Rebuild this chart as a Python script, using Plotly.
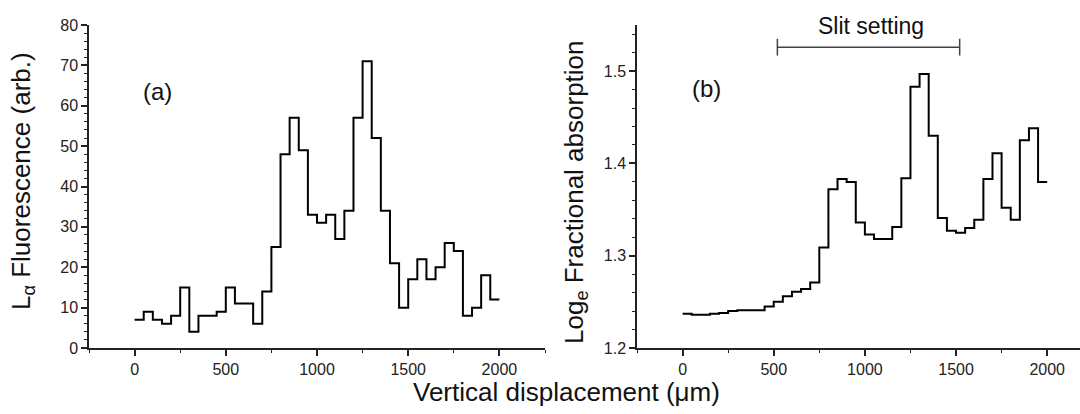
import plotly.graph_objects as go

# ---- data ----
displacement = [0, 50, 100, 150, 200, 250, 300, 350, 400, 450,
                500, 550, 600, 650, 700, 750, 800, 850, 900, 950,
                1000, 1050, 1100, 1150, 1200, 1250, 1300, 1350, 1400, 1450,
                1500, 1550, 1600, 1650, 1700, 1750, 1800, 1850, 1900, 1950, 2000]

fluorescence = [7, 9, 7, 6, 8, 15, 4, 8, 8, 9,
                15, 11, 11, 6, 14, 25, 48, 57, 49, 33,
                31, 33, 27, 34, 57, 71, 52, 34, 21, 10,
                17, 22, 17, 20, 26, 24, 8, 10, 18, 12, 12]

log_absorption = [1.237, 1.236, 1.236, 1.237, 1.238, 1.240, 1.241, 1.241, 1.241, 1.245,
                  1.250, 1.256, 1.261, 1.264, 1.271, 1.309, 1.372, 1.383, 1.380, 1.336,
                  1.323, 1.318, 1.318, 1.331, 1.384, 1.483, 1.497, 1.430, 1.341, 1.327,
                  1.325, 1.330, 1.339, 1.383, 1.411, 1.352, 1.339, 1.425, 1.438, 1.380, 1.380]

slit_range = [520, 1520]
slit_level = [1.526, 1.526]

x_ticks = [0, 500, 1000, 1500, 2000]
left_y_ticks = [0, 10, 20, 30, 40, 50, 60, 70, 80]
right_y_ticks = [1.2, 1.3, 1.4, 1.5]

FONT = "Liberation Sans, Arial, sans-serif"
AX = "#222222"
TXT = "#111111"

fig = go.Figure()

fig.add_trace(go.Scatter(x=displacement, y=fluorescence, mode="lines",
                         line=dict(shape="hv", color="black", width=2),
                         xaxis="x", yaxis="y", showlegend=False))
fig.add_trace(go.Scatter(x=displacement, y=log_absorption, mode="lines",
                         line=dict(shape="hv", color="black", width=2),
                         xaxis="x2", yaxis="y2", showlegend=False))
fig.add_trace(go.Scatter(x=slit_range, y=slit_level, mode="lines+markers",
                         line=dict(color="#444444", width=1.5),
                         marker=dict(symbol="line-ns-open", size=12,
                                     line=dict(color="#444444", width=1.5)),
                         xaxis="x2", yaxis="y2", showlegend=False, cliponaxis=False))

common_x = dict(showline=True, linecolor=AX, linewidth=1.5, ticks="outside",
                ticklen=6, tickwidth=1.5, tickcolor=AX, showgrid=False, zeroline=False,
                automargin=False,
                tickvals=x_ticks, tickfont=dict(size=16, color="#222"),
                minor=dict(dtick=250, tick0=0, ticks="outside", ticklen=3,
                           tickwidth=1.2, tickcolor=AX))

fig.update_layout(
    template="none",
    width=1080, height=414,
    margin=dict(l=0, r=0, t=0, b=0, autoexpand=False),
    paper_bgcolor="white", plot_bgcolor="white",
    font=dict(family=FONT, color=TXT),
    xaxis=dict(domain=[89 / 1080, 545 / 1080], range=[-250, 2250], anchor="y", **common_x),
    xaxis2=dict(domain=[637 / 1080, 1.0], range=[-250, 2180], anchor="y2", **common_x),
    yaxis=dict(domain=[1 - 348 / 414, 1 - 25 / 414], range=[0, 80], anchor="x",
               showline=True, linecolor=AX, linewidth=1.5, ticks="outside",
               ticklen=6, tickwidth=1.5, tickcolor=AX, showgrid=False, zeroline=False,
               automargin=False,
               tickvals=left_y_ticks, tickfont=dict(size=16, color="#222"),
               minor=dict(dtick=2, tick0=0, ticks="outside", ticklen=3,
                          tickwidth=1.2, tickcolor=AX)),
    yaxis2=dict(domain=[1 - 348 / 414, 1 - 25 / 414], range=[1.2, 1.55], anchor="x2",
                showline=True, linecolor=AX, linewidth=1.5, ticks="outside",
                ticklen=6, tickwidth=1.5, tickcolor=AX, showgrid=False, zeroline=False,
                automargin=False,
                tickvals=right_y_ticks, tickformat=".1f", tickfont=dict(size=16, color="#222"),
                minor=dict(dtick=0.02, tick0=1.2, ticks="outside", ticklen=3,
                           tickwidth=1.2, tickcolor=AX)),
    annotations=[
        dict(text="(a)", x=126, y=63.5, xref="x", yref="y", showarrow=False,
             xanchor="center", yanchor="middle", font=dict(size=24, color=TXT)),
        dict(text="(b)", x=133, y=1.481, xref="x2", yref="y2", showarrow=False,
             xanchor="center", yanchor="middle", font=dict(size=24, color=TXT)),
        dict(text="Slit setting", x=1035, y=1.549, xref="x2", yref="y2", showarrow=False,
             xanchor="center", yanchor="middle", font=dict(size=23, color=TXT)),
        dict(text="Vertical displacement (μm)", x=566 / 1080, y=1 - 392 / 414,
             xref="paper", yref="paper", showarrow=False,
             xanchor="center", yanchor="middle", font=dict(size=26, color=TXT)),
        dict(text="L<sub>α</sub> Fluorescence (arb.)", x=23 / 1080, y=1 - 181 / 414,
             xref="paper", yref="paper", showarrow=False, textangle=-90,
             xanchor="center", yanchor="middle", font=dict(size=26, color=TXT)),
        dict(text="Log<sub>e</sub> Fractional absorption", x=575 / 1080, y=1 - 192 / 414,
             xref="paper", yref="paper", showarrow=False, textangle=-90,
             xanchor="center", yanchor="middle", font=dict(size=26, color=TXT)),
    ],
)

fig.write_html("out.html")
